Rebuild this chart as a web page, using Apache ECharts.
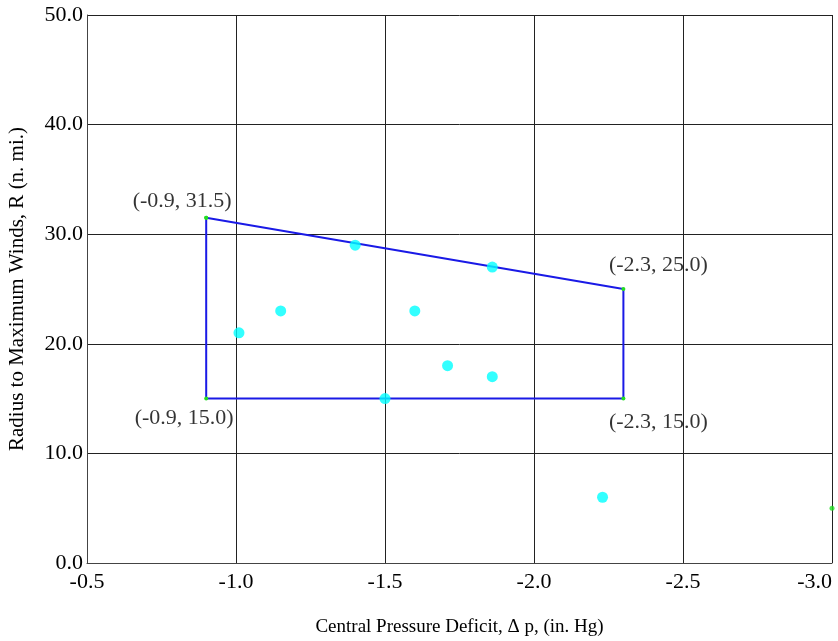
<!DOCTYPE html>
<html>
<head>
<meta charset="utf-8">
<script src="https://cdn.jsdelivr.net/npm/echarts@6/dist/echarts.min.js"></script>
<style>html,body{margin:0;padding:0;background:#fff}#c{width:838px;height:641px}</style>
</head>
<body>
<div id="c"></div>
<script>
const xTicks = [-0.5, -1.0, -1.5, -2.0, -2.5, -3.0];
const yTicks = [0, 10, 20, 30, 40, 50];
const boxX = [-0.9, -2.3, -2.3, -0.9, -0.9];
const boxY = [31.5, 25.0, 15.0, 15.0, 31.5];
const vertexLabels = ['(-0.9, 31.5)', '(-2.3, 25.0)', '(-2.3, 15.0)', '(-0.9, 15.0)'];
const obsX = [-1.01, -1.15, -1.40, -1.60, -1.86, -1.71, -1.86, -1.50, -2.23];
const obsY = [21.0, 23.0, 29.0, 23.0, 27.0, 18.0, 17.0, 15.0, 6.0];
const extraX = [-3.0];
const extraY = [5.0];

const font = 'Liberation Serif';
const labelOffsets = [[-24, -17], [35, -24], [35, 24], [-22, 20]];

const chart = echarts.init(document.getElementById('c'), null, {renderer: 'canvas'});
chart.setOption({
  animation: false,
  backgroundColor: '#fff',
  grid: {left: 87, right: 6, top: 15, bottom: 78, containLabel: false, outerBoundsMode: 'none'},
  xAxis: {
    type: 'value', min: -3.0, max: -0.5, interval: 0.5, inverse: true,
    name: 'Central Pressure Deficit, \u0394 p, (in. Hg)', nameLocation: 'middle', nameGap: 55,
    nameTextStyle: {fontFamily: font, fontSize: 19, color: '#000'},
    axisLine: {show: true, onZero: false, lineStyle: {color: '#444', width: 1}},
    axisTick: {show: false},
    axisLabel: {fontFamily: font, fontSize: 22, color: '#000', margin: 8, alignMinLabel: 'right',
      formatter: v => v.toFixed(1)},
    splitLine: {show: true, lineStyle: {color: '#222', width: 1}}
  },
  yAxis: {
    type: 'value', min: 0, max: 50, interval: 10,
    name: 'Radius to Maximum Winds, R (n. mi.)', nameLocation: 'middle', nameGap: 59,
    nameTextStyle: {fontFamily: font, fontSize: 21, color: '#000'},
    axisLine: {show: true, lineStyle: {color: '#444', width: 1}},
    axisTick: {show: false},
    axisLabel: {fontFamily: font, fontSize: 22, color: '#000', margin: 4, formatter: v => v.toFixed(1)},
    splitLine: {show: true, lineStyle: {color: '#222', width: 1}}
  },
  series: [
    {
      type: 'line',
      data: boxX.map((x, i) => [x, boxY[i]]),
      lineStyle: {color: '#1a1ae6', width: 2},
      symbol: 'circle', symbolSize: 4,
      itemStyle: {color: '#22dd22'},
      z: 3
    },
    {
      type: 'scatter',
      data: vertexLabels.map((t, i) => ({
        value: [boxX[i], boxY[i]],
        label: {show: true, formatter: t, position: 'inside', offset: labelOffsets[i],
          fontFamily: font, fontSize: 22, color: '#000'}
      })),
      symbolSize: 0.1,
      itemStyle: {color: 'transparent'},
      z: 5
    },
    {
      type: 'scatter',
      data: obsX.map((x, i) => [x, obsY[i]]),
      symbol: 'circle', symbolSize: 11,
      itemStyle: {color: '#00ffff'},
      z: 4
    },
    {
      type: 'scatter',
      data: extraX.map((x, i) => [x, extraY[i]]),
      symbol: 'circle', symbolSize: 5,
      itemStyle: {color: '#22dd22'},
      z: 4
    }
  ]
});
</script>
</body>
</html>
